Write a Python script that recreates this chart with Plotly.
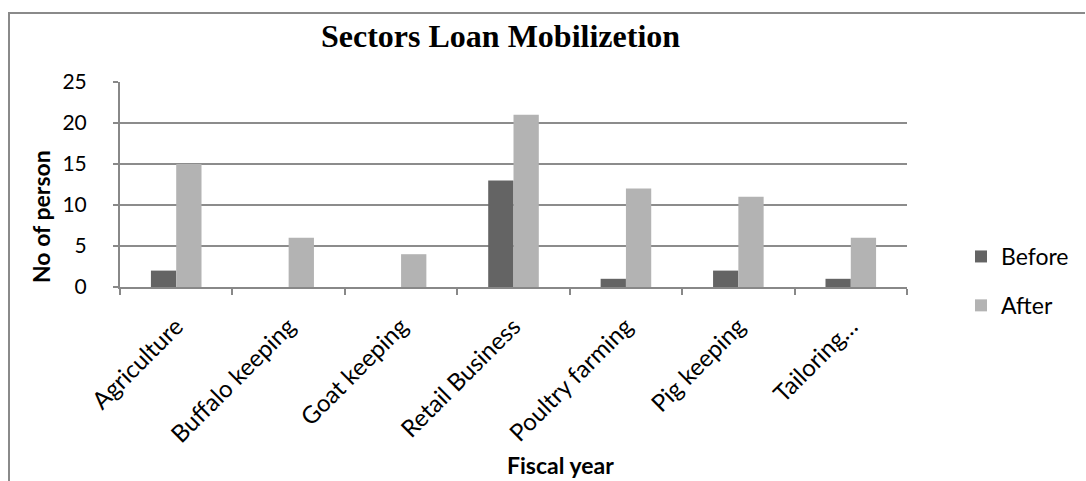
import plotly.graph_objects as go

categories = ["Agriculture", "Buffalo keeping", "Goat keeping", "Retail Business",
              "Poultry farming", "Pig keeping", "Tailoring…"]
before = [2, 0, 0, 13, 1, 2, 1]
after = [15, 6, 4, 21, 12, 11, 6]

W, H = 1086, 481
L, R, T, B = 120, 907, 82, 287

fig = go.Figure()
fig.add_trace(go.Bar(name="Before", x=categories, y=before, marker_color="#646464",
                     marker_line_width=0, legendgroup="a"))
fig.add_trace(go.Bar(name="After", x=categories, y=after, marker_color="#b3b3b3",
                     marker_line_width=0, legendgroup="b"))

fnt = "Lato, 'Open Sans', sans-serif"
pw = R - L
ph = B - T
def px(x):
    return (x - L) / pw
def py(y):
    return (B - y) / ph

fig.update_layout(
    width=W, height=H,
    margin=dict(l=L, r=W - R, t=T, b=H - B, pad=0, autoexpand=False),
    paper_bgcolor="white", plot_bgcolor="white",
    barmode="group", bargap=0.55, bargroupgap=0,
    font=dict(family=fnt, color="black"),
    legend=dict(x=px(961), y=py(235), xanchor="left", yanchor="top",
                font=dict(size=23, family=fnt), itemwidth=30,
                bgcolor="rgba(0,0,0,0)", tracegroupgap=16),
    xaxis=dict(tickangle=-45, tickfont=dict(size=24, family=fnt),
               showline=True, linecolor="#888888", linewidth=2,
               ticks="outside", ticklen=6, tickcolor="#888888", tickwidth=2,
               tickson="boundaries", ticklabelstandoff=14),
    yaxis=dict(range=[0, 25], dtick=5, tickfont=dict(size=21, family=fnt),
               showgrid=True, gridcolor="#8c8c8c", gridwidth=2,
               showline=True, linecolor="#888888", linewidth=2,
               ticks="outside", ticklen=5, tickcolor="#888888", tickwidth=2,
               zeroline=False, ticklabelstandoff=22),
    annotations=[
        dict(text="<b>Sectors Loan Mobilizetion</b>", xref="paper", yref="paper",
             x=px(500), y=py(36), xanchor="center", yanchor="middle", showarrow=False,
             font=dict(family="'Liberation Serif', 'Times New Roman', serif", size=32,
                       color="black")),
        dict(text="<b>No of person</b>", xref="paper", yref="paper", textangle=-90,
             x=px(41), y=py(217), xanchor="center", yanchor="middle", showarrow=False,
             font=dict(family=fnt, size=23, color="black")),
        dict(text="<b>Fiscal year</b>", xref="paper", yref="paper",
             x=px(560), y=py(465), xanchor="center", yanchor="middle", showarrow=False,
             font=dict(family=fnt, size=23, color="black")),
    ],
    shapes=[
        dict(type="line", xref="paper", yref="paper", x0=px(8), x1=px(1085),
             y0=py(13), y1=py(13), line=dict(color="#8a8a8a", width=2)),
        dict(type="line", xref="paper", yref="paper", x0=px(9), x1=px(9),
             y0=py(13), y1=py(481), line=dict(color="#8a8a8a", width=2)),
    ],
)

fig.write_html("out.html", config={"displayModeBar": False},
               post_script="document.body.style.margin='0px';")
